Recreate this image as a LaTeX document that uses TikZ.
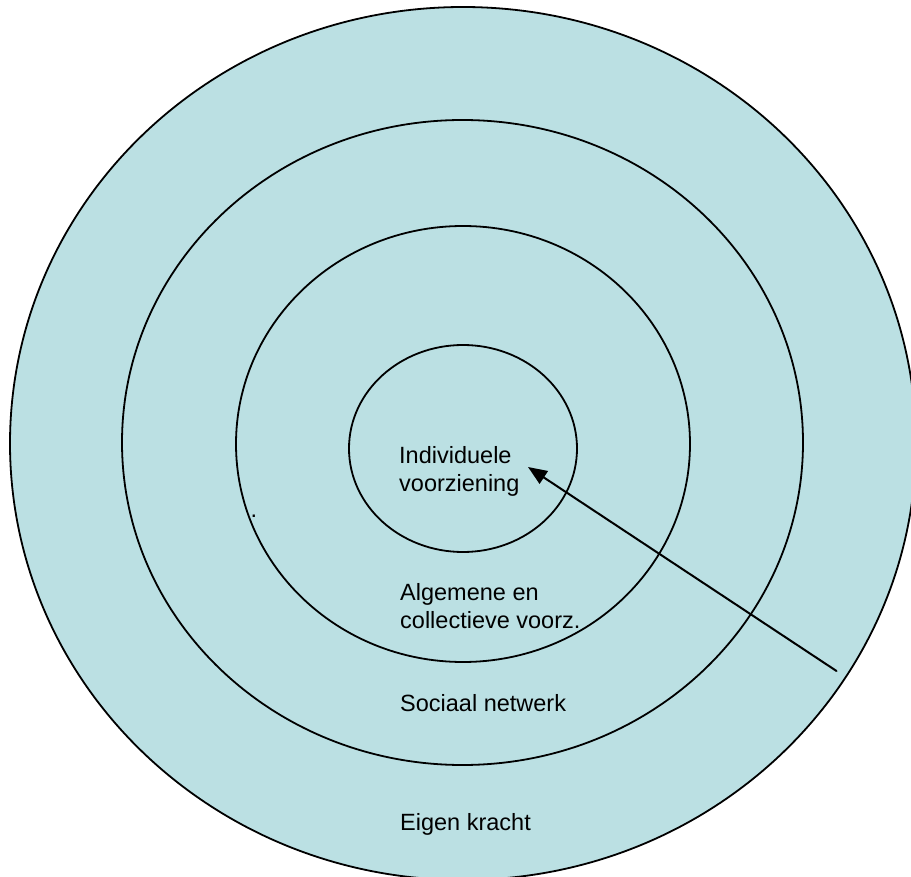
\documentclass[tikz,border=0pt]{standalone}
\usepackage{fontspec}
\setmainfont{Liberation Sans}
\usetikzlibrary{arrows.meta,shapes.geometric}
\definecolor{ringfill}{HTML}{BBE0E3}
\begin{document}
\begin{tikzpicture}[x=1pt,y=-1pt,
  ring/.style={ellipse,draw=black,line width=1.8pt,fill=ringfill,inner sep=0pt},
  lbl/.style={inner sep=0pt,font=\fontsize{23.5}{28.5}\selectfont,align=left},
  pointer/.style={line width=2pt,line cap=round,-{Triangle[length=19pt,width=15pt]}}]
\useasboundingbox (0,0) rectangle (911,877);
\clip (0,0) rectangle (911,877);
\node[ring,minimum width=906pt,minimum height=873pt] (outer) at (463,443.5) {};
\node[ring,minimum width=681pt,minimum height=645pt] (second) at (462.5,442.5) {};
\node[ring,minimum width=454pt,minimum height=436pt] (third) at (463,444) {};
\node[ring,minimum width=228pt,minimum height=207pt] (inner) at (463,448.5) {};
\node[lbl,anchor=north west] (ind) at (399,446.2) {Individuele\\voorziening};
\node[lbl,anchor=north west] (alg) at (400,583.2) {Algemene en\\collectieve voorz.};
\node[lbl,anchor=base west] (soc) at (400,711.5) {Sociaal netwerk};
\node[lbl,anchor=base west] (eig) at (400,830.7) {Eigen kracht};
\node[lbl,anchor=base west] (dot) at (250.5,517) {.};
\coordinate (from) at (836.5,671);
\coordinate (tip) at (528,467);
\draw[pointer] (from) -- (tip);
\end{tikzpicture}
\end{document}
